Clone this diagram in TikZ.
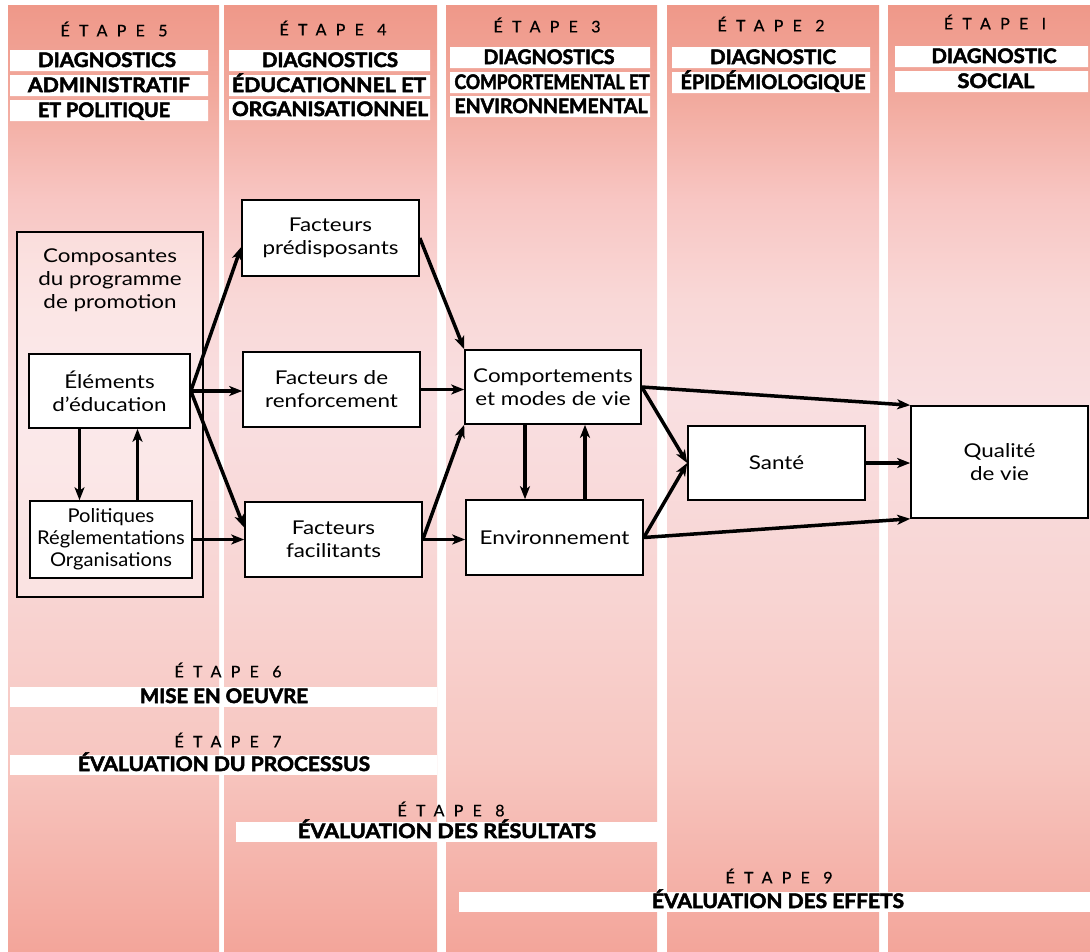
\documentclass[tikz,border=0pt]{standalone}
\usepackage{fontspec}
\usepackage{graphicx}
\setmainfont{Lato}[FakeStretch=1.18]
\newfontfamily\polfont{Lato}[FakeStretch=1.06]
\newfontfamily\hdfont{Lato}[BoldFeatures={FakeBold=2.5}]
\newfontfamily\etfont{Lato}[LetterSpace=58, FakeBold=0.6]
\usetikzlibrary{arrows.meta}
\definecolor{c0}{RGB}{243,165,154}
\definecolor{c1}{RGB}{247,198,192}
\definecolor{c2}{RGB}{248,212,210}
\definecolor{c3}{RGB}{249,223,225}
\definecolor{c4}{RGB}{249,216,215}
\definecolor{c5}{RGB}{248,198,195}
\definecolor{c6}{RGB}{242,170,158}
\definecolor{c7}{RGB}{239,152,137}
\pgfdeclareverticalshading{colshade}{100bp}{color(0bp)=(c0); color(25bp)=(c0); color(35bp)=(c1); color(43.6bp)=(c2); color(54bp)=(c3); color(59.4bp)=(c4); color(64.7bp)=(c5); color(70bp)=(c6); color(75bp)=(c7); color(100bp)=(c7)}
\newcommand{\hx}[2]{\resizebox{#1pt}{\height}{#2}}
\tikzset{
  box/.style={draw, line width=1.6pt, fill=white, align=center, inner sep=0pt,
    font=\fontsize{19}{23}\selectfont},
  txt/.style={align=center, inner sep=0pt, font=\fontsize{19}{23}\selectfont},
  hd/.style={anchor=base, inner sep=0pt, font=\hdfont\bfseries\fontsize{20}{20}\selectfont},
  etp/.style={inner sep=0pt, font=\etfont\fontsize{16}{16}\selectfont},
  arr/.style={line width=3.5pt, -{Stealth[length=13pt,width=10pt,inset=3.5pt]}},
}
\begin{document}
\begin{tikzpicture}[x=1pt,y=-1pt]
\useasboundingbox (0,0) rectangle (1090,951);
\fill[white] (0,0) rectangle (1090,951);
\foreach \a/\b in {8/219, 224/437, 446/657, 667/879, 888/1090}
  \shade[shading=colshade] (\a,5) rectangle (\b,951);

% header bars
\fill[white] (10,50) rectangle (208,71) (10,75) rectangle (208,96) (10,100) rectangle (208,121);
\fill[white] (229,50) rectangle (430,71) (229,75) rectangle (430,96) (229,99) rectangle (430,120);
\fill[white] (450,47) rectangle (650,68) (450,72) rectangle (650,93) (450,96) rectangle (650,117);
\fill[white] (672,47) rectangle (870,68) (672,72) rectangle (870,93);
\fill[white] (895,46) rectangle (1088,67) (895,71) rectangle (1088,92);

\node[etp] (e5) at (114,29) {ÉTAPE 5};
\node[etp] (e4) at (333,28) {ÉTAPE 4};
\node[etp] (e3) at (547,25) {ÉTAPE 3};
\node[etp] (e2) at (771,24) {ÉTAPE 2};
\node[etp] (e1) at (995,22) {ÉTAPE I};

\node[hd] (h5a) at (107,67) {\hx{138}{DIAGNOSTICS}};
\node[hd] (h5b) at (109,92) {\hx{162}{ADMINISTRATIF}};
\node[hd] (h5c) at (104,117) {\hx{132}{ET POLITIQUE}};
\node[hd] (h4a) at (330,67) {\hx{136}{DIAGNOSTICS}};
\node[hd] (h4b) at (329,92) {\hx{194}{ÉDUCATIONNEL ET}};
\node[hd] (h4c) at (330,116) {\hx{196}{ORGANISATIONNEL}};
\node[hd] (h3a) at (549,64) {\hx{131}{DIAGNOSTICS}};
\node[hd] (h3b) at (552,89) {\hx{195}{COMPORTEMENTAL ET}};
\node[hd] (h3c) at (551,113) {\hx{193}{ENVIRONNEMENTAL}};
\node[hd] (h2a) at (773,64) {\hx{126}{DIAGNOSTIC}};
\node[hd] (h2b) at (773,89) {\hx{185}{ÉPIDÉMIOLOGIQUE}};
\node[hd] (h1a) at (994,63) {\hx{125}{DIAGNOSTIC}};
\node[hd] (h1b) at (996,88) {\hx{77}{SOCIAL}};

% bottom bars
\fill[white] (10,687) rectangle (437,707);
\fill[white] (10,755) rectangle (437,775);
\fill[white] (236,822) rectangle (660,842);
\fill[white] (459,892) rectangle (1090,912);
\node[etp] (e6) at (228,670) {ÉTAPE 6};
\node[hd] (b6) at (224,703) {\hx{168}{MISE EN OEUVRE}};
\node[etp] (e7) at (228,740) {ÉTAPE 7};
\node[hd] (b7) at (224,771) {\hx{292}{ÉVALUATION DU PROCESSUS}};
\node[etp] (e8) at (451,809) {ÉTAPE 8};
\node[hd] (b8) at (447,838) {\hx{298}{ÉVALUATION DES RÉSULTATS}};
\node[etp] (e9) at (779,876) {ÉTAPE 9};
\node[hd] (b9) at (778,908) {\hx{252}{ÉVALUATION DES EFFETS}};

% boxes
\node[box, fill opacity=0.35, text opacity=1, minimum width=186pt, minimum height=365pt] (compo) at (110,414.5) {};
\node[txt] (compotitle) at (110,280) {Composantes\\du programme\\de promotion};
\node[box, minimum width=161pt, minimum height=74pt] (elem) at (109.5,391) {Éléments\\d’éducation};
\node[box, minimum width=162pt, minimum height=77pt, font=\polfont\fontsize{19}{22}\selectfont] (pol) at (111,539.5) {Politiques\\Réglementations\\Organisations};
\node[box, minimum width=177pt, minimum height=76pt] (pred) at (330.5,238) {Facteurs\\prédisposants};
\node[box, minimum width=177pt, minimum height=75pt] (renf) at (331.5,389.5) {Facteurs de\\renforcement};
\node[box, minimum width=177pt, minimum height=75pt] (fac) at (333.5,539.5) {Facteurs\\facilitants};
\node[box, minimum width=176pt, minimum height=74pt] (comp) at (553,387) {Comportements\\et modes de vie};
\node[box, minimum width=177pt, minimum height=75pt] (env) at (554.5,537.5) {Environnement};
\node[box, minimum width=177pt, minimum height=74pt] (sante) at (776.5,463) {Santé};
\node[box, minimum width=177pt, minimum height=112pt] (qual) at (999.5,462) {Qualité\\de vie};

% arrows
\draw[arr] (elem.east) -- ([yshift=-9pt]pred.west);
\draw[arr] (elem.east) -- (elem.east -| renf.west);
\draw[arr] (elem.east) -- ([yshift=12pt]fac.west);
\draw[arr] ([xshift=-30pt]elem.south) -- ([xshift=-30pt]elem.south |- pol.north);
\draw[arr] ([xshift=28pt]elem.south |- pol.north) -- ([xshift=28pt]elem.south);
\draw[arr] (pol.east) -- (pol.east -| fac.west);
\draw[arr] (pred.east) -- (comp.north west);
\draw[arr] (renf.east) -- (renf.east -| comp.west);
\draw[arr] (fac.east) -- (comp.south west);
\draw[arr] (fac.east) -- (fac.east -| env.west);
\draw[arr] ([xshift=-28pt]comp.south) -- ([xshift=-28pt]comp.south |- env.north);
\draw[arr] ([xshift=32pt]comp.south |- env.north) -- ([xshift=32pt]comp.south);
\draw[arr] (comp.east) -- (qual.north west);
\draw[arr] (comp.east) -- (sante.west);
\draw[arr] (env.east) -- (sante.west);
\draw[arr] (env.east) -- (qual.south west);
\draw[arr] (sante.east) -- (sante.east -| qual.west);
\end{tikzpicture}
\end{document}
